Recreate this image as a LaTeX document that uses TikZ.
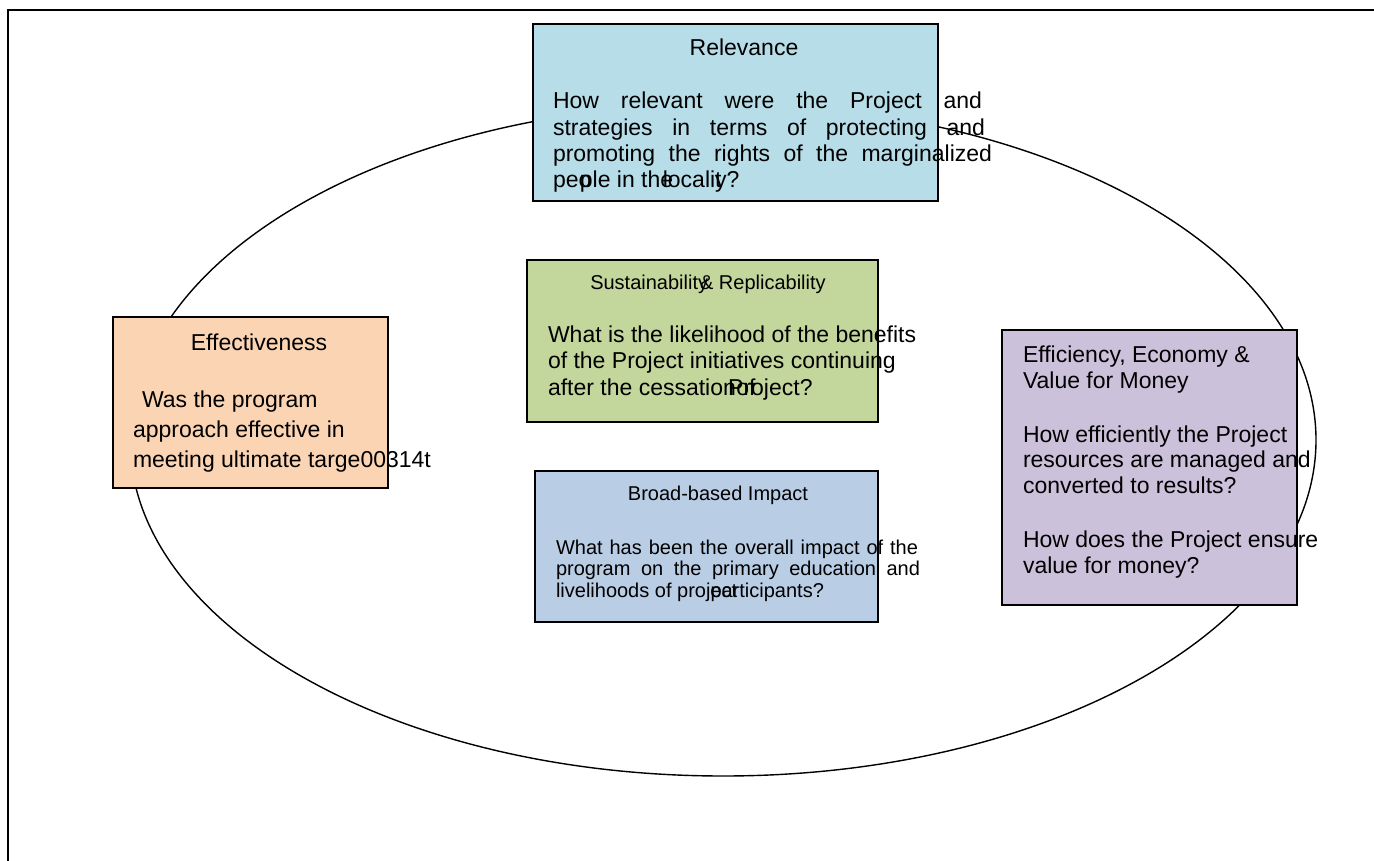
\documentclass[tikz,border=0pt]{standalone}
\usepackage{fontspec}
\setmainfont{Liberation Sans}
\usetikzlibrary{shapes.geometric}
\definecolor{relblue}{HTML}{B7DDE8}
\definecolor{susgreen}{HTML}{C3D69B}
\definecolor{effpeach}{HTML}{FBD4B4}
\definecolor{impblue}{HTML}{B9CDE5}
\definecolor{effpurple}{HTML}{CCC1DA}
\newcommand{\txtblock}[3]{\parbox[t]{600pt}{\fontsize{#1}{#2}\selectfont\raggedright #3}}
\begin{document}
\begin{tikzpicture}[x=1pt,y=-1pt,
  panel/.style={draw=black, line width=1.8pt, inner sep=0pt, outer sep=0pt},
  txt/.style={inner sep=0pt, outer sep=0pt, anchor=base west},
  ttl/.style={inner sep=0pt, outer sep=0pt, anchor=base}]
\useasboundingbox (0,0) rectangle (1374,861);
% frame
\coordinate (fr1) at (1374,10);
\coordinate (fr2) at (8,10);
\coordinate (fr3) at (8,861);
\draw[line width=2.2pt] (fr1) -- (fr2) -- (fr3);
% ellipse
\node[draw, ellipse, line width=1.4pt, inner sep=0pt, minimum width=1186pt, minimum height=672pt] (ring) at (723,440) {};
% boxes
\node[panel, fill=relblue, minimum width=405pt, minimum height=177pt] (rel) at (735.5,112.5) {};
\node[panel, fill=susgreen, minimum width=351pt, minimum height=162pt] (sus) at (702.5,341) {};
\node[panel, fill=effpeach, minimum width=275pt, minimum height=171pt] (eff) at (250.5,402.5) {};
\node[panel, fill=impblue, minimum width=343pt, minimum height=151pt] (imp) at (706.5,546.5) {};
\node[panel, fill=effpurple, minimum width=295pt, minimum height=275pt] (ecn) at (1149.5,467.5) {};
% Relevance
\node[ttl, font=\fontsize{23}{26}\selectfont] (relT) at (744,56) {Relevance};
\node[txt] (relB) at (553,109) {\txtblock{23}{26.3}{\makebox[429pt][s]{How relevant were the Project and}\\
\makebox[432pt][s]{strategies in terms of protecting and}\\
\makebox[439pt][s]{promoting the rights of the marginalized}\\
peo\kern-0.5em ple in the\kern-0.45em locali\rlap{t}y?}};
% Sustainability
\node[ttl, font=\fontsize{20}{24}\selectfont] (susT) at (708,290) {Sustainability\kern-0.4em\& Replicability};
\node[txt] (susB) at (548,342) {\txtblock{23}{26.7}{What is the likelihood of the benefits\\
of the Project initiatives continuing\\
after the cessatio\rlap{n\kern0.02em of}\kern0.22em Project?}};
% Effectiveness
\node[ttl, font=\fontsize{23}{26}\selectfont] (effT) at (259,350) {Effectiveness};
\node[txt] (effB) at (133,407) {\txtblock{23}{30}{\hspace*{9pt}Was the program\\
approach effective in\\
meeting ultimate targe00314t}};
% Broad-based Impact
\node[ttl, font=\fontsize{20}{24}\selectfont] (impT) at (718,500) {Broad-based Impact};
\node[txt] (impB) at (556,554) {\txtblock{20}{21.7}{\makebox[362pt][s]{What has been the overall impact of the}\\
\makebox[364pt][s]{program on the primary education and}\\
livelihoods of proj\rlap{ect}participants?}};
% Efficiency
\node[txt] (ecnT) at (1023,362) {\txtblock{23}{26}{Efficiency, Economy \&\\
Value for Money}};
\node[txt] (ecnB1) at (1023,442) {\txtblock{23}{25.5}{How efficiently the Project\\
resources are managed and\\
converted to results?}};
\node[txt] (ecnB2) at (1023,547) {\txtblock{23}{26}{How does the Project ensure\\
value for money?}};
\end{tikzpicture}
\end{document}
